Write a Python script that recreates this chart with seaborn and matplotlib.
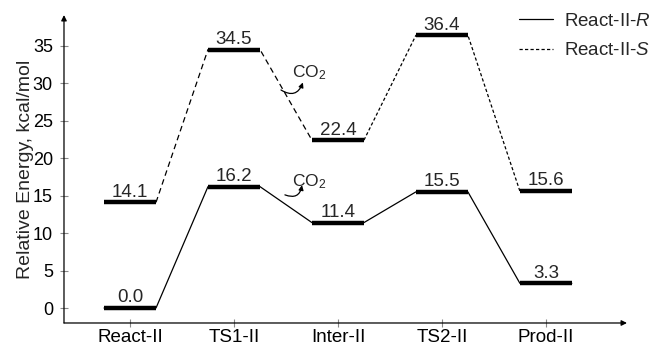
import pandas as pd
import matplotlib.pyplot as plt
import seaborn as sns
from matplotlib.lines import Line2D

# =========================
# DANE
# =========================
states = ['React-II', 'TS1-II', 'Inter-II', 'TS2-II', 'Prod-II']
energy_R = [0.0, 16.2, 11.4, 15.5, 3.3]
energy_S = [14.1, 34.5, 22.4, 36.4, 15.6]
y_ticks = [0, 5, 10, 15, 20, 25, 30, 35]

half = 0.25  # polowa szerokosci poziomu


def edges(vals, idx):
    # punkty na krawedziach poziomow energii
    rows = []
    for i in idx:
        rows.append({'x': i - half, 'E': vals[i]})
        rows.append({'x': i + half, 'E': vals[i]})
    return pd.DataFrame(rows)


df_R = edges(energy_R, range(5))
df_S1 = edges(energy_S, [0, 1, 2])
df_S2 = edges(energy_S, [2, 3, 4])

# =========================
# STYL
# =========================
sns.set_style('white')
plt.rcParams['font.family'] = ['Liberation Sans', 'DejaVu Sans']
plt.rcParams['mathtext.fontset'] = 'custom'
plt.rcParams['mathtext.rm'] = 'Liberation Sans'
plt.rcParams['mathtext.it'] = 'Liberation Sans:italic'
plt.rcParams['mathtext.default'] = 'regular'

fig = plt.figure(figsize=(6.55, 3.46), dpi=100)
ax = fig.add_axes([0.0977, 0.0665, 0.8595, 0.890])

# linie laczace
sns.lineplot(data=df_R, x='x', y='E', sort=False, estimator=None, color='k',
             lw=0.9, ax=ax, legend=False)
sns.lineplot(data=df_S1.iloc[1:-1], x='x', y='E', sort=False, estimator=None,
             color='k', lw=0.9, ax=ax, legend=False, linestyle=(0, (4.5, 3)))
sns.lineplot(data=df_S2.iloc[1:-1], x='x', y='E', sort=False, estimator=None,
             color='k', lw=0.9, ax=ax, legend=False, linestyle=(0, (2.6, 1.8)))

# poziomy energii
xs = list(range(len(states)))
for vals in (energy_R, energy_S):
    ax.hlines(vals, [x - half for x in xs], [x + half for x in xs],
              colors='k', lw=3.2, zorder=3)
    for x, v in zip(xs, vals):
        ax.annotate(f'{v:.1f}', (x, v), xytext=(0, 1.2), textcoords='offset points',
                    ha='center', va='bottom', fontsize=13.5)

# CO2
for (x0, y0), (x1, y1), (tx, ty) in [((1.452, 29.1), (1.663, 30.1), (1.56, 31.4)),
                                      ((1.49, 15.1), (1.654, 16.4), (1.56, 16.8))]:
    ax.annotate('', xy=(x1, y1), xytext=(x0, y0),
                arrowprops=dict(arrowstyle='-|>', color='k', lw=0.9,
                                connectionstyle='arc3,rad=0.6',
                                shrinkA=0, shrinkB=0, mutation_scale=7))
    ax.text(tx, ty, 'CO$_2$', ha='left', va='center', fontsize=12.5)

ax.set_xlim(-0.635, 4.78)
ax.set_ylim(-2.0, 39.1)
ax.set_xticks(xs)
ax.set_xticklabels(states, fontsize=13.5)
ax.set_yticks(y_ticks)
ax.set_yticklabels([str(t) for t in y_ticks], fontsize=13)
ax.set_xlabel('')
ax.set_ylabel('Relative Energy, kcal/mol', fontsize=14, labelpad=-1)
ax.tick_params(axis='both', direction='inout', length=6, width=0.8,
               color='#888888', labelcolor='k', left=True, bottom=True)
ax.tick_params(axis='x', pad=1.5)
ax.tick_params(axis='y', pad=5)

# osie ze strzalkami
for s in ax.spines.values():
    s.set_visible(False)
ax.annotate('', xy=(0, 1), xytext=(0, 0), xycoords='axes fraction',
            arrowprops=dict(arrowstyle='-|>', color='k', lw=0.9,
                            shrinkA=0, shrinkB=0, mutation_scale=8))
ax.annotate('', xy=(1, 0), xytext=(0, 0), xycoords='axes fraction',
            arrowprops=dict(arrowstyle='-|>', color='k', lw=0.9,
                            shrinkA=0, shrinkB=0, mutation_scale=8))

# legenda
handles = [Line2D([], [], color='k', lw=0.9),
           Line2D([], [], color='k', lw=0.9, linestyle=(0, (2.6, 1.8)))]
fig.legend(handles, ['React-II-$\\mathit{R}$', 'React-II-$\\mathit{S}$'],
           loc='upper right', bbox_to_anchor=(1.005, 0.985), frameon=False,
           fontsize=13.5, handlelength=1.8, handletextpad=0.6, labelspacing=0.65,
           borderaxespad=0.0)

plt.savefig('out.png', dpi=100)
